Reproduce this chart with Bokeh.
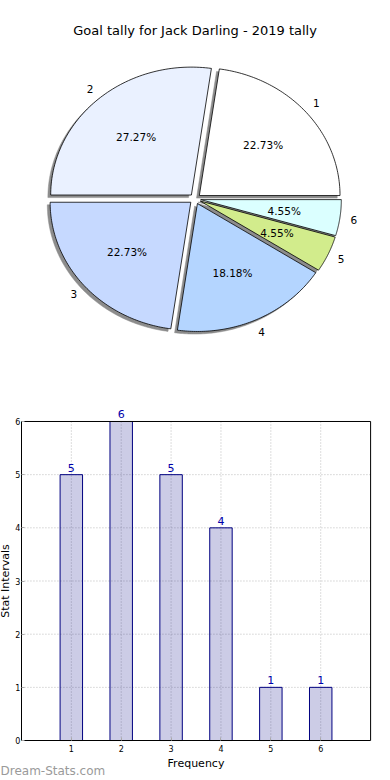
import numpy as np
from bokeh.plotting import figure
from bokeh.models import Range1d, ColumnDataSource, LabelSet, Label, FixedTicker
from bokeh.core.properties import value
from bokeh.embed import file_html
from bokeh.resources import INLINE

# ---- data ----
title_text = "Goal tally for Jack Darling - 2019 tally"
slice_labels = ["1", "2", "3", "4", "5", "6"]
goals = [5, 6, 5, 4, 1, 1]
slice_colors = ["#ffffff", "#eaf1ff", "#c6d9ff", "#b4d5ff", "#d2ec8c", "#dbffff"]
bar_x = [1, 2, 3, 4, 5, 6]
x_ticks = [1, 2, 3, 4, 5, 6]
y_ticks = [0, 1, 2, 3, 4, 5, 6]
x_lo, x_hi = 0, 7
y_lo, y_hi = 0, 6

FONT = "DejaVu Sans"
explode = 0.04
shadow_dx, shadow_dy = -0.02, -0.02

# ---- pie ----
p1 = figure(width=390, height=390, x_range=Range1d(-1.383, 1.389),
            y_range=Range1d(-1.498, 1.551), output_backend="svg",
            toolbar_location=None, x_axis_location=None, y_axis_location=None,
            min_border=0)
p1.grid.visible = False
p1.outline_line_color = None

vals = np.array(goals, dtype=float)
fracs = vals / vals.sum()
ends = np.cumsum(fracs) * 2 * np.pi
starts = ends - fracs * 2 * np.pi
mids = (starts + ends) / 2

xs, ys, sxs, sys_ = [], [], [], []
lx, ly, px, py, ptxt = [], [], [], [], []
for a0, a1, m, f in zip(starts, ends, mids, fracs):
    cx, cy = explode * np.cos(m), explode * np.sin(m)
    t = np.linspace(a0, a1, 80)
    wx = [cx] + list(cx + np.cos(t))
    wy = [cy] + list(cy + np.sin(t))
    xs.append(wx); ys.append(wy)
    sxs.append([v + shadow_dx for v in wx]); sys_.append([v + shadow_dy for v in wy])
    lx.append(cx + 1.1 * np.cos(m)); ly.append(cy + 1.1 * np.sin(m))
    px.append(cx + 0.6 * np.cos(m)); py.append(cy + 0.6 * np.sin(m))
    ptxt.append("%.2f%%" % (f * 100))

p1.patches(sxs, sys_, fill_color="#8c8c8c", line_color="#8c8c8c", line_width=0.5)
p1.patches(xs, ys, fill_color=slice_colors, line_color="black", line_width=0.8)

lab_src = ColumnDataSource(dict(x=lx, y=ly, t=slice_labels))
pct_src = ColumnDataSource(dict(x=px, y=py, t=ptxt))
for s in (lab_src, pct_src):
    p1.add_layout(LabelSet(x="x", y="y", text="t", source=s, text_align="center",
                           text_baseline="middle", text_font=value(FONT),
                           text_font_size="10.5px", text_color="black"))
p1.add_layout(Label(x=0, y=1.317, text=title_text, text_align="center",
                    text_baseline="middle", text_font=FONT, text_font_size="13px",
                    text_color="black"))

# ---- bar ----
# frame covers the whole figure; axes are pinned at x=0 / y=0
p2 = figure(width=390, height=390, x_range=Range1d(-0.42, 7.399),
            y_range=Range1d(-0.752, 6.583),
            output_backend="svg", toolbar_location=None, min_border=0)
p2.outline_line_color = None
p2.grid.visible = False

# dotted grid lines, limited to the plotting box
p2.segment(x0=x_ticks, y0=y_lo, x1=x_ticks, y1=y_hi, line_color="#bbbbbb",
           line_dash="1 2", line_width=1)
p2.segment(x0=x_lo, y0=y_ticks, x1=x_hi, y1=y_ticks, line_color="#bbbbbb",
           line_dash="1 2", line_width=1)

src = ColumnDataSource(dict(x=bar_x, top=goals, t=[str(g) for g in goals]))
p2.vbar(x="x", top="top", width=0.45, source=src, fill_color="#000080",
        fill_alpha=0.2, line_color="#000080", line_width=1)
p2.add_layout(LabelSet(x="x", y="top", text="t", source=src, y_offset=3,
                       text_align="center", text_baseline="bottom", text_font=value(FONT),
                       text_font_size="11px", text_color="#0000aa"))

# top and right borders of the box
p2.segment(x0=[x_lo, x_hi], y0=[y_hi, y_lo], x1=[x_hi, x_hi], y1=[y_hi, y_hi],
           line_color="black", line_width=1)

p2.xaxis.ticker = FixedTicker(ticks=x_ticks)
p2.yaxis.ticker = FixedTicker(ticks=y_ticks)
p2.xaxis.fixed_location = y_lo
p2.yaxis.fixed_location = x_lo
p2.xaxis.bounds = (x_lo, x_hi)
p2.yaxis.bounds = (y_lo, y_hi)
p2.xaxis.axis_label = "Frequency"
p2.yaxis.axis_label = "Stat Intervals"

for ax in (p2.xaxis, p2.yaxis):
    ax.axis_label_text_font = FONT
    ax.axis_label_text_font_size = "11px"
    ax.axis_label_text_font_style = "normal"
    ax.axis_label_text_color = "black"
    ax.major_label_text_font = FONT
    ax.major_label_text_font_size = "8px"
    ax.major_label_text_color = "black"
    ax.major_tick_in = 3
    ax.major_tick_out = 0
    ax.major_tick_line_color = "#aaaaaa"
    ax.minor_tick_line_color = None
    ax.axis_line_color = "black"
p2.xaxis.axis_label_standoff = 2
p2.xaxis.major_label_standoff = 4
p2.yaxis.axis_label_standoff = 0
p2.yaxis.major_label_standoff = 1

p2.add_layout(Label(x=0, y=10, x_units="screen", y_units="screen",
                    text="Dream-Stats.com", text_font=FONT, text_font_size="12px",
                    text_color="#9a9a9a", text_baseline="middle"))

open("out.html", "w").write(file_html([p1, p2], INLINE))
